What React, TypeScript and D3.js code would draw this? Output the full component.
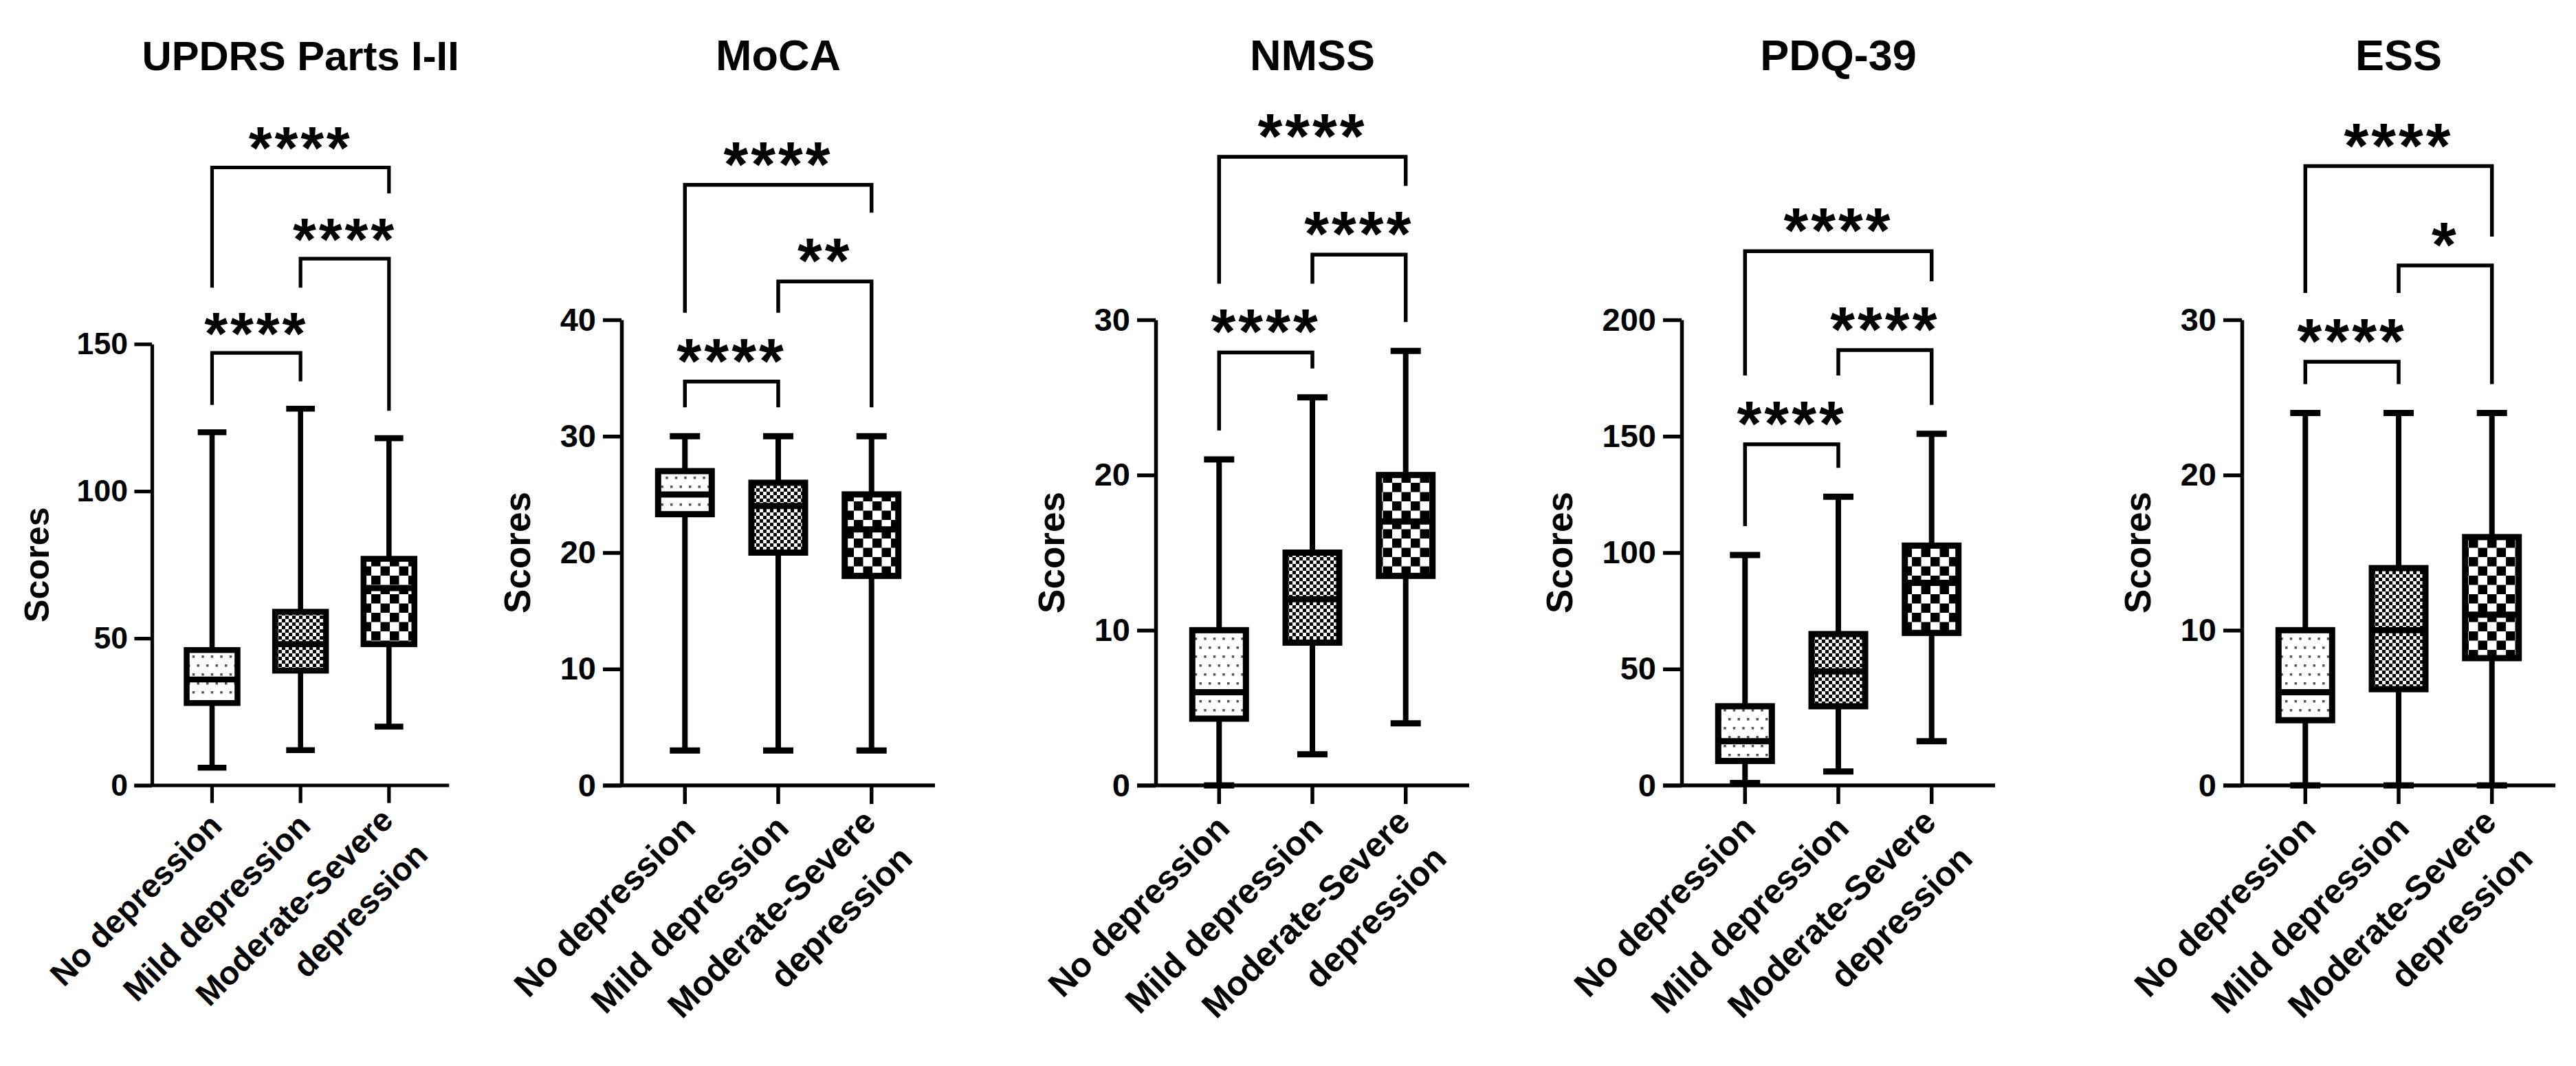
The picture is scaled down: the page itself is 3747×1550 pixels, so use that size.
import React, { useEffect, useRef } from 'react';
import * as d3 from 'd3';

const CATS = ['No depression', 'Mild depression', 'Moderate-Severe depression'];
const CAT_LINES = [['No depression'], ['Mild depression'], ['Moderate-Severe', 'depression']];
const FILLS = ['url(#dots)', 'url(#fineCheck)', 'url(#coarseCheck)'];

const TITLES = ['UPDRS Parts I-II', 'MoCA', 'NMSS', 'PDQ-39', 'ESS'];
const Y_TICKS = [
  [0, 50, 100, 150],
  [0, 10, 20, 30, 40],
  [0, 10, 20, 30],
  [0, 50, 100, 150, 200],
  [0, 10, 20, 30],
];

// box summaries, order: No / Mild / Moderate-Severe
const updrsMin = [6, 12, 20];
const updrsQ1 = [28, 39, 48];
const updrsMed = [36, 48, 67];
const updrsQ3 = [46, 59, 77];
const updrsMax = [120, 128, 118];

const mocaMin = [3, 3, 3];
const mocaQ1 = [23.3, 20, 18];
const mocaMed = [25, 24, 22];
const mocaQ3 = [27, 26, 25];
const mocaMax = [30, 30, 30];

const nmssMin = [0, 2, 4];
const nmssQ1 = [4.3, 9.2, 13.5];
const nmssMed = [6, 12, 17];
const nmssQ3 = [10, 15, 20];
const nmssMax = [21, 25, 28];

const pdqMin = [1, 6, 19];
const pdqQ1 = [10.5, 34, 65.5];
const pdqMed = [19, 49, 87];
const pdqQ3 = [34, 65, 103];
const pdqMax = [99, 124, 151];

const essMin = [0, 0, 0];
const essQ1 = [4.2, 6.2, 8.2];
const essMed = [6, 10, 11];
const essQ3 = [10, 14, 16];
const essMax = [24, 24, 24];

// significance brackets: No-Mild, Mild-Mod, No-Mod
const PAIRS: [number, number][] = [[0, 1], [1, 2], [0, 2]];
const updrsSig = ['****', '****', '****'];
const updrsSigY = [147, 179, 210];
const mocaSig = ['****', '**', '****'];
const mocaSigY = [34.7, 43.3, 51.6];
const nmssSig = ['****', '****', '****'];
const nmssSigY = [27.9, 34.2, 40.5];
const pdqSig = ['****', '****', '****'];
const pdqSigY = [146.5, 187, 229.5];
const essSig = ['****', '*', '****'];
const essSigY = [27.3, 33.5, 39.9];

const panels = [
  { min: updrsMin, q1: updrsQ1, med: updrsMed, q3: updrsQ3, max: updrsMax, sig: updrsSig, sigY: updrsSigY },
  { min: mocaMin, q1: mocaQ1, med: mocaMed, q3: mocaQ3, max: mocaMax, sig: mocaSig, sigY: mocaSigY },
  { min: nmssMin, q1: nmssQ1, med: nmssMed, q3: nmssQ3, max: nmssMax, sig: nmssSig, sigY: nmssSigY },
  { min: pdqMin, q1: pdqQ1, med: pdqMed, q3: pdqQ3, max: pdqMax, sig: pdqSig, sigY: pdqSigY },
  { min: essMin, q1: essQ1, med: essMed, q3: essQ3, max: essMax, sig: essSig, sigY: essSigY },
];

// layout
const PANEL_X = [221, 904, 1681, 2446, 3261];
const PANEL_S = [0.948, 1, 1, 1, 1];
const BOTTOM = 1142;
const PLOT_H = 677;
const PLOT_W = 456;
const FONT = 'Arial, "Liberation Sans", sans-serif';

export default function App() {
  const svgRef = useRef<SVGSVGElement>(null);

  useEffect(() => {
    if (!svgRef.current) return;
    const svg = d3.select(svgRef.current);
    svg.selectAll('*').remove();

    const defs = svg.append('defs');
    const dots = defs.append('pattern').attr('id', 'dots')
      .attr('patternUnits', 'userSpaceOnUse').attr('width', 27).attr('height', 26);
    dots.append('rect').attr('width', 27).attr('height', 26).attr('fill', '#fff');
    [[3, 4], [16.5, 4], [9.75, 17], [23.25, 17]].forEach(([px, py]) =>
      dots.append('rect').attr('x', px).attr('y', py).attr('width', 3.5).attr('height', 3.5).attr('fill', '#555'));

    const fine = defs.append('pattern').attr('id', 'fineCheck')
      .attr('patternUnits', 'userSpaceOnUse').attr('width', 10).attr('height', 10);
    fine.append('rect').attr('width', 10).attr('height', 10).attr('fill', '#fff');
    fine.append('rect').attr('width', 5).attr('height', 5).attr('fill', '#000');
    fine.append('rect').attr('x', 5).attr('y', 5).attr('width', 5).attr('height', 5).attr('fill', '#000');

    const coarse = defs.append('pattern').attr('id', 'coarseCheck')
      .attr('patternUnits', 'userSpaceOnUse').attr('width', 27).attr('height', 27);
    coarse.append('rect').attr('width', 27).attr('height', 27).attr('fill', '#fff');
    coarse.append('rect').attr('width', 13.5).attr('height', 13.5).attr('fill', '#000');
    coarse.append('rect').attr('x', 13.5).attr('y', 13.5).attr('width', 13.5).attr('height', 13.5).attr('fill', '#000');

    panels.forEach((p, pi) => {
      const s = PANEL_S[pi];
      const ax = PANEL_X[pi];
      const ticks = Y_TICKS[pi];
      const yMax = ticks[ticks.length - 1];
      const g = svg.append('g');

      const y = d3.scaleLinear().domain([0, yMax]).range([BOTTOM, BOTTOM - PLOT_H * s]);
      const x = d3.scalePoint<string>().domain(CATS).range([ax, ax + PLOT_W * s]).padding(0.68);

      // title
      g.append('text')
        .attr('x', ax + (PLOT_W * s) / 2).attr('y', 102)
        .attr('text-anchor', 'middle')
        .style('font-family', FONT).style('font-weight', 'bold').style('font-size', `${63 * s}px`)
        .text(TITLES[pi]);

      // y axis
      const yAxis = d3.axisLeft(y).tickValues(ticks).tickSize(27 * s).tickSizeOuter(0).tickPadding(10 * s);
      const ya = g.append('g').attr('transform', `translate(${ax},0)`).call(yAxis);
      ya.select('.domain').attr('stroke-width', 5.5 * s).attr('stroke', '#000');
      ya.selectAll('.tick line').attr('stroke-width', 5.5 * s).attr('stroke', '#000');
      ya.selectAll('.tick text')
        .attr('fill', '#000')
        .style('font-family', FONT).style('font-weight', 'bold').style('font-size', `${47 * s}px`);

      // y axis title
      const digits = String(yMax).length;
      const tx = ax - (101 + 25.6 * digits) * s;
      const ty = (BOTTOM + y(yMax)) / 2;
      g.append('text')
        .attr('transform', `translate(${tx},${ty}) rotate(-90)`)
        .attr('text-anchor', 'middle').attr('dy', '0.36em')
        .style('font-family', FONT).style('font-weight', 'bold').style('font-size', `${53 * s}px`)
        .text('Scores');

      // x axis
      g.append('line')
        .attr('x1', ax - 27 * s).attr('x2', ax + PLOT_W * s)
        .attr('y1', BOTTOM).attr('y2', BOTTOM)
        .attr('stroke', '#000').attr('stroke-width', 5.5 * s);
      g.selectAll('.xtick').data(CATS).enter().append('line')
        .attr('x1', d => x(d)!).attr('x2', d => x(d)!)
        .attr('y1', BOTTOM).attr('y2', BOTTOM + 27 * s)
        .attr('stroke', '#000').attr('stroke-width', 5.5 * s);

      // x labels
      const fs = 50 * s;
      CAT_LINES.forEach((lines, i) => {
        const t = g.append('text')
          .attr('transform', `translate(${x(CATS[i])! + 18 * s},${BOTTOM + 65 * s}) rotate(-45)`)
          .attr('text-anchor', 'end')
          .style('font-family', FONT).style('font-weight', 'bold').style('font-size', `${fs}px`);
        lines.forEach((ln, j) => {
          t.append('tspan').attr('x', 0).attr('y', (j * 1.5 - (lines.length - 1) * 0.25) * fs).text(ln);
        });
      });

      // boxes
      const bw = 78 * s;
      const cw = 44 * s;
      CATS.forEach((c, i) => {
        const cx = x(c)!;
        const wg = g.append('g').attr('stroke', '#000').attr('fill', 'none');
        wg.append('line').attr('x1', cx).attr('x2', cx).attr('y1', y(p.max[i])).attr('y2', y(p.q3[i])).attr('stroke-width', 8 * s);
        wg.append('line').attr('x1', cx).attr('x2', cx).attr('y1', y(p.q1[i])).attr('y2', y(p.min[i])).attr('stroke-width', 8 * s);
        [p.max[i], p.min[i]].forEach(v => {
          wg.append('line').attr('x1', cx - cw / 2).attr('x2', cx + cw / 2).attr('y1', y(v)).attr('y2', y(v)).attr('stroke-width', 9 * s);
        });
        wg.append('rect')
          .attr('x', cx - bw / 2).attr('y', y(p.q3[i]))
          .attr('width', bw).attr('height', y(p.q1[i]) - y(p.q3[i]))
          .attr('fill', FILLS[i]).attr('stroke-width', 9 * s);
        wg.append('line').attr('x1', cx - bw / 2).attr('x2', cx + bw / 2)
          .attr('y1', y(p.med[i])).attr('y2', y(p.med[i])).attr('stroke-width', 9 * s);
      });

      // significance brackets
      const legEnd = (c: number, k: number) => {
        let ob = y(p.max[c]);
        for (let j = 0; j < k; j++) {
          const [a, b] = PAIRS[j];
          if (a <= c && c <= b) {
            const ly = y(p.sigY[j]);
            ob = Math.min(ob, p.sig[j].length > 1 ? ly - 58 * s : ly);
          }
        }
        return ob - 42 * s;
      };
      PAIRS.forEach(([a, b], k) => {
        const ly = y(p.sigY[k]);
        const x1 = x(CATS[a])!;
        const x2 = x(CATS[b])!;
        g.append('path')
          .attr('d', `M${x1},${legEnd(a, k)}V${ly}H${x2}V${legEnd(b, k)}`)
          .attr('fill', 'none').attr('stroke', '#000').attr('stroke-width', 5.5 * s);
        g.append('text')
          .attr('x', (x1 + x2) / 2).attr('y', ly + 2 * s)
          .attr('text-anchor', 'middle')
          .style('font-family', FONT).style('font-weight', 'bold')
          .style('font-size', `${92 * s}px`).style('letter-spacing', `${4 * s}px`)
          .text(p.sig[k]);
      });
    });
  }, []);

  return (
    <div>
      <style>{'body{margin:0;background:#fff}'}</style>
      <svg ref={svgRef} width={3747} height={1550} style={{ display: 'block', background: '#fff' }} />
    </div>
  );
}
